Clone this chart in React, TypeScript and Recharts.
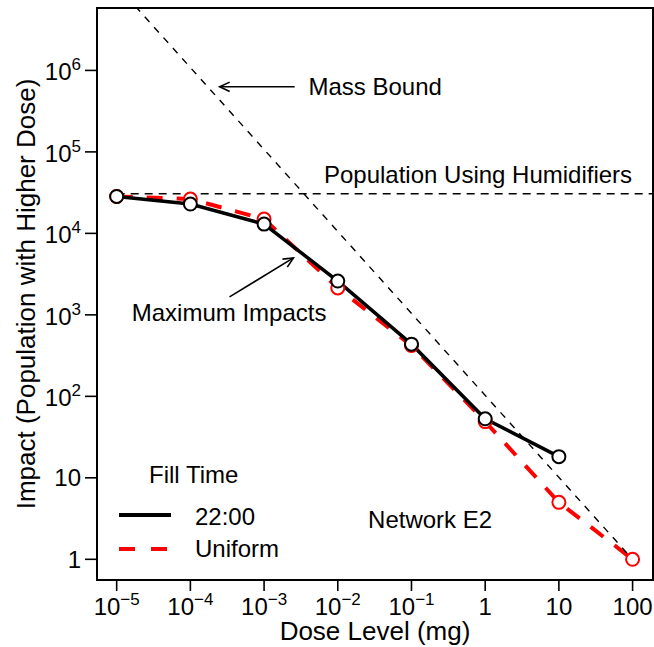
import React from 'react';
import { LineChart, Line, XAxis, YAxis, ReferenceArea, ReferenceLine, ReferenceDot, Legend } from 'recharts';

// ---- data ----
const doses2200 = [1e-5, 1e-4, 1e-3, 1e-2, 1e-1, 1, 10];
const impacts2200 = [28400, 22900, 13000, 2600, 437, 53, 18.2];
const dosesUniform = [1e-5, 1e-4, 1e-3, 1e-2, 1e-1, 1, 10, 100];
const impactsUniform = [28400, 26400, 15000, 2140, 420, 49, 5.0, 1];
const massBoundDoses = [1e-5, 100];
const massBoundImpacts = [1.1e7, 1];
const humidifierPopulation = 30600;
const xTicks = [1e-5, 1e-4, 1e-3, 1e-2, 1e-1, 1, 10, 100];
const yTicks = [1, 10, 100, 1e3, 1e4, 1e5, 1e6];

const X_MIN = Math.pow(10, -5.267);
const X_MAX = Math.pow(10, 2.277);
const Y_MIN = Math.pow(10, -0.254);
const Y_MAX = Math.pow(10, 6.766);

const toPts = (xs: number[], ys: number[]) => xs.map((x, i) => ({ x, y: ys[i] }));
const data2200 = toPts(doses2200, impacts2200);
const dataUniform = toPts(dosesUniform, impactsUniform);
const dataMass = toPts(massBoundDoses, massBoundImpacts);
const dataHumid = [{ x: 1e-5, y: humidifierPopulation }, { x: X_MAX, y: humidifierPopulation }];

const FONT = '"Liberation Sans", Arial, Helvetica, sans-serif';

const XTick = (props: any) => {
  const { x, y, payload } = props;
  const v = payload.value;
  const e = Math.round(Math.log10(v));
  const base = y + 22;
  if (e >= 0) {
    return (
      <text x={x} y={base} textAnchor="middle" fontSize={24} fill="#000" fontFamily={FONT}>
        {String(Math.round(v))}
      </text>
    );
  }
  return (
    <text x={x} y={base} textAnchor="middle" fontSize={24} fill="#000" fontFamily={FONT}>
      <tspan>10</tspan>
      <tspan fontSize={17} dy={-10}>{'\u2212' + Math.abs(e)}</tspan>
    </text>
  );
};

const YTick = (props: any) => {
  const { x, y, payload } = props;
  const v = payload.value;
  const e = Math.round(Math.log10(v));
  const ax = x - 2;
  if (e <= 1) {
    return (
      <text x={ax} y={y + 8.5} textAnchor="end" fontSize={24} fill="#000" fontFamily={FONT}>
        {String(Math.round(v))}
      </text>
    );
  }
  return (
    <text x={ax} y={y + 10} textAnchor="end" fontSize={24} fill="#000" fontFamily={FONT}>
      <tspan>10</tspan>
      <tspan fontSize={17} dy={-10}>{String(e)}</tspan>
    </text>
  );
};

const makeDot = (color: string) => (props: any) => {
  const { cx, cy, index } = props;
  if (cx == null || cy == null) return <g key={index} />;
  return <circle key={index} cx={cx} cy={cy} r={6.5} fill="#fff" stroke={color} strokeWidth={2} />;
};

const Arrow = (props: any) => {
  const { x1, y1, x2, y2 } = props;
  const ang = Math.atan2(y2 - y1, x2 - x1);
  const L = 11;
  const a = (25 * Math.PI) / 180;
  const hx1 = x2 - L * Math.cos(ang - a);
  const hy1 = y2 - L * Math.sin(ang - a);
  const hx2 = x2 - L * Math.cos(ang + a);
  const hy2 = y2 - L * Math.sin(ang + a);
  return (
    <g>
      <line x1={x1} y1={y1} x2={x2} y2={y2} stroke="#000" strokeWidth={1.6} />
      <polyline points={`${hx1},${hy1} ${x2},${y2} ${hx2},${hy2}`} fill="none" stroke="#000" strokeWidth={1.6} />
    </g>
  );
};

const textShape = (label: string, anchor: string) => (props: any) => (
  <text x={props.cx} y={props.cy} textAnchor={anchor} fontSize={24} fill="#000" fontFamily={FONT}>
    {label}
  </text>
);

const LegendBox = () => (
  <svg width={220} height={110} style={{ display: 'block' }}>
    <text x={39} y={23} fontSize={24} fontFamily={FONT} fill="#000">Fill Time</text>
    <line x1={9} y1={55} x2={61} y2={55} stroke="#000" strokeWidth={4} />
    <text x={85} y={65} fontSize={24} fontFamily={FONT} fill="#000">22:00</text>
    <line x1={9} y1={89} x2={58} y2={89} stroke="#ff0000" strokeWidth={4} strokeDasharray="16 16" />
    <text x={85} y={97} fontSize={24} fontFamily={FONT} fill="#000">Uniform</text>
  </svg>
);

export default function App() {
  return (
    <div style={{ position: 'absolute', left: 0, top: 0, background: '#fff', fontFamily: FONT }}>
      <LineChart width={654} height={647} margin={{ top: 8, right: 1, bottom: 0, left: 0 }}>
        <XAxis
          type="number"
          dataKey="x"
          scale="log"
          domain={[X_MIN, X_MAX]}
          allowDataOverflow
          ticks={xTicks}
          interval={0}
          height={67}
          tickSize={11}
          axisLine={false}
          tickLine={{ stroke: '#000', strokeWidth: 1.6 }}
          tick={<XTick />}
          label={(p: any) => {
            const vb = p.viewBox || { x: 97, y: 580, width: 556, height: 67 };
            return (
              <text x={vb.x + vb.width / 2} y={vb.y + 60} textAnchor="middle" fontSize={26} fontFamily={FONT} fill="#000">
                Dose Level (mg)
              </text>
            );
          }}
        />
        <YAxis
          type="number"
          dataKey="y"
          scale="log"
          domain={[Y_MIN, Y_MAX]}
          allowDataOverflow
          ticks={yTicks}
          interval={0}
          width={97}
          tickSize={12}
          axisLine={false}
          tickLine={{ stroke: '#000', strokeWidth: 1.6 }}
          tick={<YTick />}
          label={(p: any) => {
            const vb = p.viewBox || { x: 0, y: 8, width: 97, height: 572 };
            const cx = vb.x + 35;
            const cy = vb.y + vb.height / 2;
            return (
              <text x={cx} y={cy} transform={`rotate(-90 ${cx} ${cy})`} textAnchor="middle" fontSize={26} fontFamily={FONT} fill="#000">
                Impact (Population with Higher Dose)
              </text>
            );
          }}
        />
        <ReferenceArea x1={X_MIN} x2={X_MAX} y1={Y_MIN} y2={Y_MAX} fill="none" stroke="#000" strokeWidth={2} ifOverflow="visible" />
        <Line data={dataHumid} dataKey="y" stroke="#000" strokeWidth={1.4} strokeDasharray="8 6" dot={false} isAnimationActive={false} legendType="none" />
        <Line data={dataUniform} dataKey="y" name="Uniform" stroke="#ff0000" strokeWidth={4} strokeDasharray="16 14" dot={makeDot('#ff0000')} isAnimationActive={false} />
        <Line data={data2200} dataKey="y" name="22:00" stroke="#000" strokeWidth={3.5} dot={makeDot('#000')} isAnimationActive={false} />
        <Line data={dataMass} dataKey="y" stroke="#000" strokeWidth={1.4} strokeDasharray="7 7" dot={false} isAnimationActive={false} legendType="none" />
        <ReferenceLine segment={[{ x: 2.6e-3, y: 6.3e5 }, { x: 2.5e-4, y: 6.3e5 }]} shape={<Arrow />} ifOverflow="visible" />
        <ReferenceLine segment={[{ x: 3.4e-4, y: 1660 }, { x: 2.5e-3, y: 5000 }]} shape={<Arrow />} ifOverflow="visible" />
        <ReferenceDot x={4e-3} y={5e5} r={0} shape={textShape('Mass Bound', 'start')} ifOverflow="visible" />
        <ReferenceDot x={0.8} y={4.2e4} r={0} shape={textShape('Population Using Humidifiers', 'middle')} ifOverflow="visible" />
        <ReferenceDot x={1.6e-5} y={840} r={0} shape={textShape('Maximum Impacts', 'start')} ifOverflow="visible" />
        <ReferenceDot x={0.179} y={2.42} r={0} shape={textShape('Network E2', 'middle')} ifOverflow="visible" />
        <Legend
          layout="horizontal"
          verticalAlign="middle"
          align="center"
          content={<LegendBox />}
          wrapperStyle={{ position: 'absolute', left: 110, top: 460, width: 220, height: 110 }}
        />
      </LineChart>
    </div>
  );
}
